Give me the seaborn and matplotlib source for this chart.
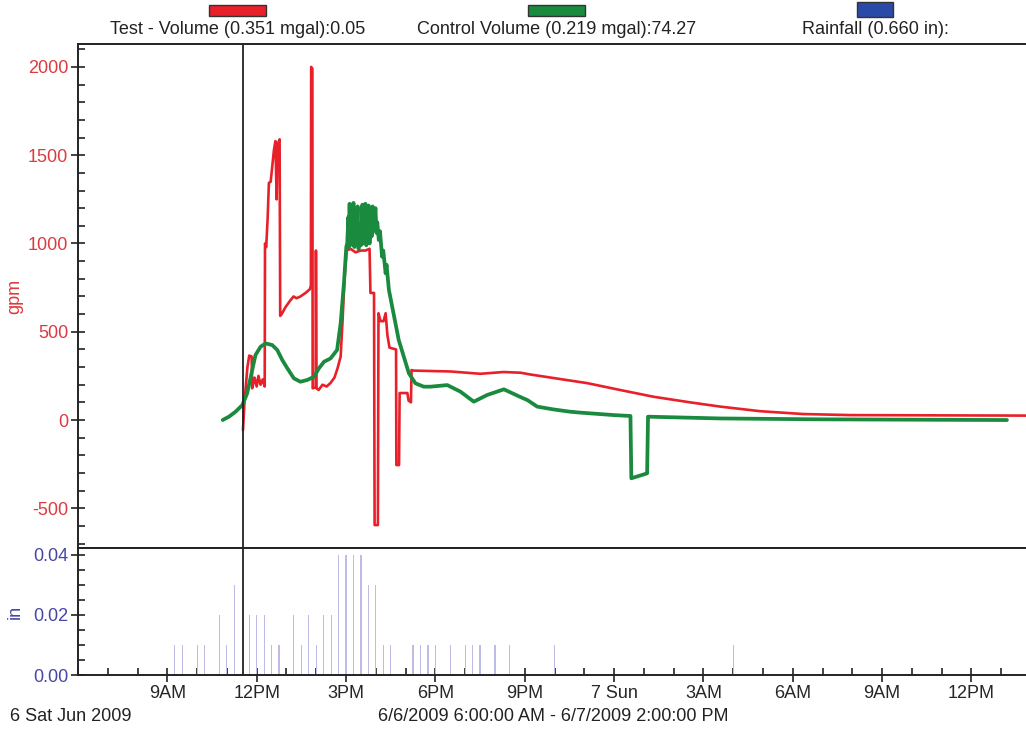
import numpy as np
import pandas as pd
import matplotlib
matplotlib.use("Agg")
import matplotlib.pyplot as plt
from matplotlib.patches import Rectangle
from matplotlib.ticker import MultipleLocator, FixedLocator, FormatStrFormatter
import seaborn as sns

sns.set_style("white")
plt.rcParams["font.family"] = ["Liberation Sans", "DejaVu Sans"]
plt.rcParams["axes.unicode_minus"] = False

# ------------------------------------------------------------------
# data (x = hours since midnight 6/6/2009)
# ------------------------------------------------------------------
test_hours = [11.54, 11.59, 11.69, 11.75, 11.83, 11.85, 11.93, 12.00, 12.06, 12.13,
              12.20, 12.27, 12.28, 12.32, 12.37, 12.41, 12.47, 12.58, 12.63, 12.67,
              12.70, 12.77, 12.79, 12.84, 12.97, 13.14, 13.24, 13.34, 13.47, 13.64,
              13.78, 13.82, 13.83, 13.87, 13.88, 13.98, 13.99, 14.01, 14.08, 14.21,
              14.35, 14.48, 14.61, 14.71, 14.82, 14.88, 14.95, 15.02, 15.15, 15.32,
              15.49, 15.65, 15.79, 15.82, 15.94, 15.96, 16.07, 16.09, 16.16, 16.26,
              16.33, 16.39, 16.46, 16.68, 16.69, 16.78, 16.80, 17.06, 17.10, 17.18,
              17.20, 17.27, 18.51, 19.51, 20.29, 20.86, 21.19, 22.20, 23.10, 24.21,
              25.32, 26.56, 27.57, 28.91, 30.35, 31.93, 38.0]
test_gpm = [-57, 100, 300, 365, 360, 180, 240, 190, 250, 200,
            230, 190, 1000, 980, 1150, 1343, 1350, 1530, 1580, 1250,
            1560, 1590, 590, 600, 640, 680, 700, 690, 700, 720,
            740, 760, 2000, 1990, 180, 185, 960, 180, 170, 200,
            190, 210, 240, 290, 360, 550, 800, 960, 970, 950,
            960, 960, 970, 720, 720, -595, -595, 605, 560, 560,
            605, 480, 410, 400, -255, -255, 153, 153, 110, 100,
            283, 280, 275, 262, 272, 268, 258, 232, 209, 170,
            132, 100, 76, 50, 34, 28, 25]

control_hours = [10.86, 10.90, 11.07, 11.29, 11.52, 11.68, 11.85, 11.96, 12.13, 12.30,
                 12.52, 12.69, 12.86, 13.03, 13.25, 13.47, 13.70, 13.92, 14.09, 14.26,
                 14.48, 14.70, 14.82, 14.93, 15.01,
                 15.04, 15.08, 15.10, 15.12, 15.14, 15.18, 15.21, 15.25, 15.28, 15.32,
                 15.35, 15.39, 15.42, 15.46, 15.50, 15.55, 15.58, 15.62, 15.65, 15.68,
                 15.72, 15.76, 15.79, 15.83, 15.86, 15.89, 15.93, 15.96, 15.99, 16.02,
                 16.05, 16.10, 16.14, 16.21, 16.25, 16.33, 16.36, 16.44, 16.55, 16.66,
                 16.77, 16.94, 17.11, 17.33, 17.61, 17.84, 18.40, 18.84, 19.29, 19.74,
                 20.30, 20.86, 21.09, 21.42, 21.97, 22.53, 22.87, 23.99, 24.55, 24.58,
                 25.11, 25.14, 27.57, 30.92, 37.19]
control_gpm = [0, 4, 19, 47, 85, 151, 283, 368, 415, 434,
               425, 397, 340, 293, 236, 217, 227, 245, 293, 330,
               349, 397, 548, 775, 982,
               1000, 1150, 980, 1225, 990, 1120, 1000, 1230, 980, 1130,
               1010, 1210, 970, 1100, 990, 1220, 1000, 1150, 1225, 990,
               1180, 1215, 1000, 1190, 1040, 1210, 1080, 1170, 1200, 1060,
               1120, 1020, 1070, 925, 960, 831, 880, 737, 642, 548,
               453, 359, 265, 208, 189, 189, 198, 161, 104, 142,
               174, 130, 113, 76, 60, 47, 42, 28, 23, -330,
               -302, 19, 9, 4, 0]

rain_hours = [9.25, 9.5, 10.0, 10.25, 10.75, 11.0, 11.25, 11.75, 12.0, 12.25,
              12.5, 12.75, 13.25, 13.5, 13.75, 14.0, 14.25, 14.5, 14.75, 15.0,
              15.25, 15.5, 15.75, 16.0, 16.25, 16.5, 17.25, 17.5, 17.75, 18.0,
              18.5, 19.0, 19.25, 19.5, 20.0, 20.5, 22.0, 28.0]
rain_in = [0.01, 0.01, 0.01, 0.01, 0.02, 0.01, 0.03, 0.02, 0.02, 0.02,
           0.01, 0.01, 0.02, 0.01, 0.02, 0.01, 0.02, 0.02, 0.04, 0.04,
           0.04, 0.04, 0.03, 0.03, 0.01, 0.01, 0.01, 0.01, 0.01, 0.01,
           0.01, 0.01, 0.01, 0.01, 0.01, 0.01, 0.01, 0.01]

tick_hours = [9, 12, 15, 18, 21, 24, 27, 30, 33, 36]
tick_labels = ["9AM", "12PM", "3PM", "6PM", "9PM", "7 Sun", "3AM", "6AM", "9AM", "12PM"]
cursor_hour = 11.53

RED = "#e8202a"
GREEN = "#1a8a3e"
BLUE = "#2a4aa8"
RED_TXT = "#dc3a3f"
BLUE_TXT = "#4646a4"
FS = 13

test = pd.DataFrame({"hour": test_hours, "gpm": test_gpm})
control = pd.DataFrame({"hour": control_hours, "gpm": control_gpm})

# ------------------------------------------------------------------
# figure
# ------------------------------------------------------------------
fig = plt.figure(figsize=(10.26, 7.31), dpi=100)
ax = fig.add_axes([0.076, 0.2503, 0.9289, 0.6895])
axr = fig.add_axes([0.076, 0.0766, 0.9289, 0.1737], sharex=ax)

sns.lineplot(data=test, x="hour", y="gpm", ax=ax, color=RED, lw=1.9,
             estimator=None, sort=False)
sns.lineplot(data=control, x="hour", y="gpm", ax=ax, color=GREEN, lw=2.7,
             estimator=None, sort=False)
axr.bar(rain_hours, rain_in, width=0.04, color="#bcbce6", linewidth=0)

for a in (ax, axr):
    a.axvline(cursor_hour, color="#222222", lw=1.3, zorder=5)
    a.spines["right"].set_visible(False)
    for s in ("left", "top", "bottom"):
        a.spines[s].set_linewidth(1.4)
        a.spines[s].set_color("#222222")
    a.set_xlabel("")

ax.set_xlim(6, 38)
ax.set_ylim(-725, 2130)
ax.yaxis.set_major_locator(FixedLocator([-500, 0, 500, 1000, 1500, 2000]))
ax.yaxis.set_minor_locator(MultipleLocator(100))
ax.tick_params(axis="x", which="both", bottom=False, length=0, labelbottom=False)
ax.tick_params(axis="y", which="both", left=True, color="#222222")
ax.tick_params(axis="y", which="major", direction="inout", length=10, width=1.2,
               labelsize=FS, labelcolor=RED_TXT, pad=2)
ax.tick_params(axis="y", which="minor", direction="in", length=5, width=1.2)
ax.set_ylabel("gpm", color=RED_TXT, fontsize=FS)
ax.yaxis.set_label_coords(-0.057, 0.5)

axr.set_ylim(0, 0.0423)
axr.yaxis.set_major_locator(FixedLocator([0, 0.02, 0.04]))
axr.yaxis.set_major_formatter(FormatStrFormatter("%.2f"))
axr.yaxis.set_minor_locator(MultipleLocator(0.005))
axr.xaxis.set_major_locator(FixedLocator(tick_hours))
axr.set_xticklabels(tick_labels)
axr.xaxis.set_minor_locator(MultipleLocator(1))
axr.tick_params(axis="both", which="both", left=True, bottom=True, color="#222222")
axr.tick_params(axis="both", which="major", direction="inout", length=10, width=1.2,
                labelsize=FS, pad=2)
axr.tick_params(axis="y", which="major", labelcolor=BLUE_TXT)
axr.tick_params(axis="both", which="minor", direction="in", length=5, width=1.2)
axr.set_ylabel("in", color=BLUE_TXT, fontsize=FS)
axr.yaxis.set_label_coords(-0.057, 0.5)

# legend strip along the top
legend_items = [("Test - Volume (0.351 mgal):0.05", RED, 0.2037, 0.0556, 0.9781, 0.0150),
                ("Control Volume (0.219 mgal):74.27", GREEN, 0.5146, 0.0556, 0.9781, 0.0150),
                ("Rainfall (0.660 in):", BLUE, 0.8353, 0.0351, 0.9767, 0.0206)]
for label, col, x0, w, y0, h in legend_items:
    fig.patches.append(Rectangle((x0, y0), w, h, transform=fig.transFigure,
                                 facecolor=col, edgecolor="#333333", lw=1.0))
    fig.text(x0 + w / 2, 0.959, label, ha="center", va="center", fontsize=FS,
             color="#222222")

fig.text(0.0097, 0.0192, "6 Sat Jun 2009", ha="left", va="center", fontsize=FS,
         color="#222222")
fig.text(0.539, 0.0192, "6/6/2009 6:00:00 AM - 6/7/2009 2:00:00 PM", ha="center",
         va="center", fontsize=FS, color="#222222")

fig.savefig("out.png", dpi=100)
